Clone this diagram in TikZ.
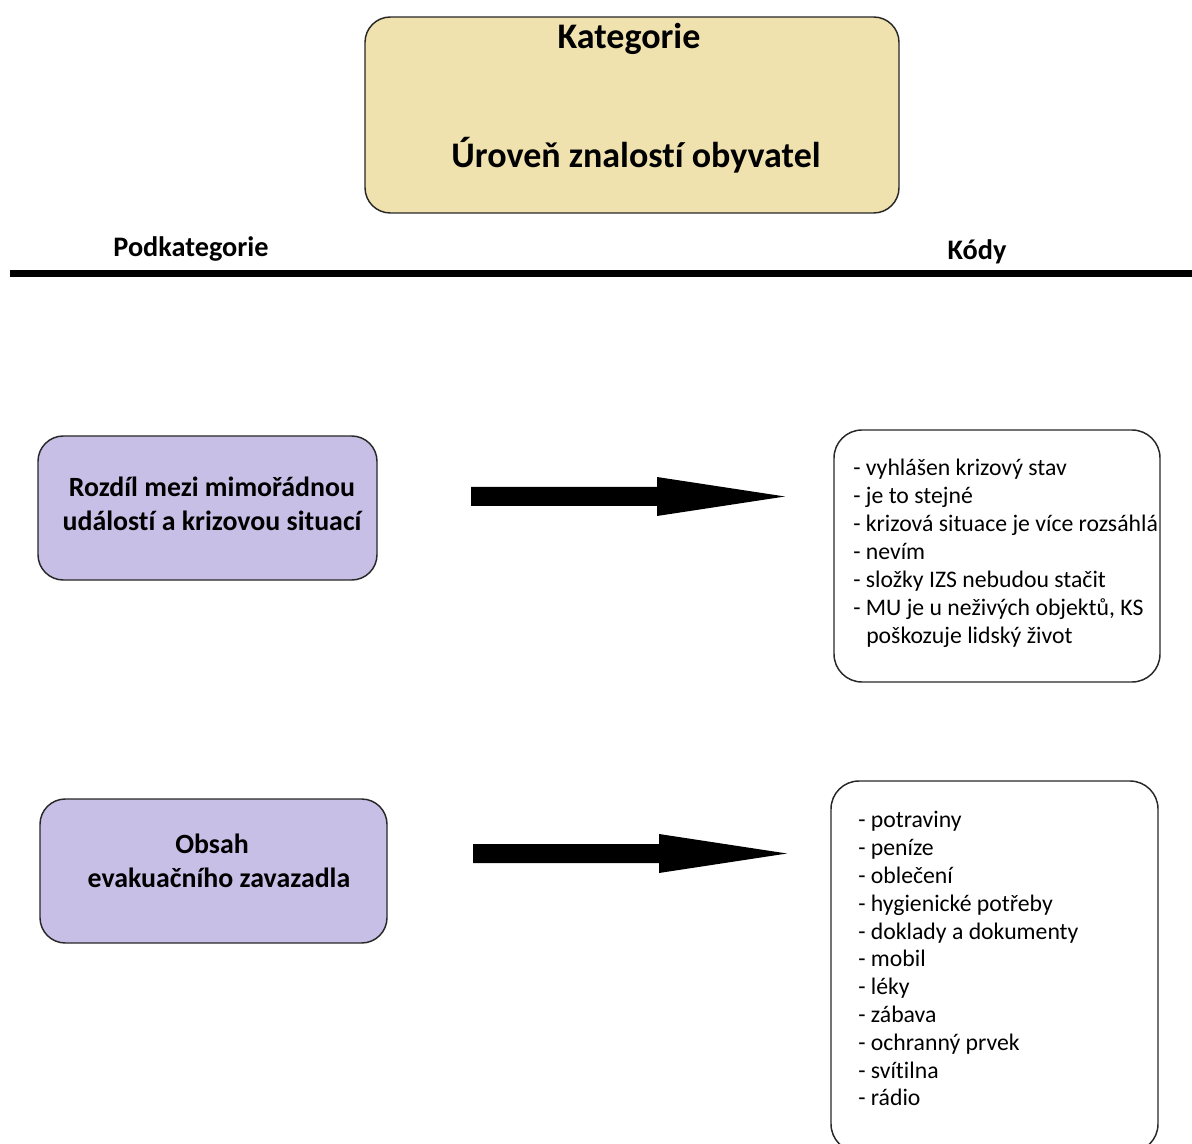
\documentclass[tikz,border=0pt]{standalone}
\usepackage{fontspec}
\setmainfont[Ligatures=NoCommon]{Carlito}
\usetikzlibrary{calc}
\definecolor{khaki}{RGB}{239,226,174}
\definecolor{lilac}{RGB}{200,191,230}
\definecolor{edge}{RGB}{40,40,40}
\tikzset{
  box/.style={draw=edge, line width=1.1pt, rounded corners=19pt},
  titletext/.style={font=\fontsize{27}{32}\selectfont\bfseries, inner sep=0pt, anchor=base},
  headtext/.style={font=\fontsize{21.2}{25}\selectfont\bfseries, inner sep=0pt, anchor=base},
  subtext/.style={font=\fontsize{20.9}{25}\selectfont\bfseries, inner sep=0pt, anchor=base},
  codetext/.style={font=\fontsize{17.8}{21}\selectfont, inner sep=0pt, anchor=base west},
}
\begin{document}
\begin{tikzpicture}[x=0.75pt,y=-0.75pt]
\useasboundingbox (0,0) rectangle (1192,1144);
\fill[white] (0,0) rectangle (1192,1144);

% category box
\draw[box, fill=khaki] (365,17) rectangle (899,213);
\node[titletext] (kat) at (629,49) {Kategorie};
\node[titletext] (uroven) at (636,168) {Úroveň znalostí obyvatel};

% headers
\node[headtext] (podk) at (191,257) {Podkategorie};
\node[headtext] (kody) at (977,260) {Kódy};
\coordinate (hl) at (10,273.5);
\coordinate (hr) at (1192,273.5);
\draw[line width=4.8pt] (hl) -- (hr);

% subcategory boxes
\draw[box, fill=lilac] (38,436) rectangle (377,580);
\node[subtext] (s1a) at (212,497) {Rozdíl mezi mimořádnou};
\node[subtext] (s1b) at (212,530) {událostí a krizovou situací};

\draw[box, fill=lilac] (40,799) rectangle (387,943);
\node[subtext] (s2a) at (212,853) {Obsah};
\node[subtext] (s2b) at (219,887) {evakuačního zavazadla};

% code boxes
\draw[box, rounded corners=21pt, fill=white] (834,430) rectangle (1160,682);
\foreach \t [count=\i] in {- vyhlášen krizový stav, - je to stejné, - krizová situace je více rozsáhlá, - nevím, - složky IZS nebudou stačit, {- MU je u neživých objektů, KS}}
  \node[codetext] (k1-\i) at (853,448+27.9*\i) {\t};
\node[codetext] (k1-7) at (866,643) {poškozuje lidský život};

\draw[box, rounded corners=21pt, fill=white] (831,781) rectangle (1158,1152);
\foreach \t [count=\i] in {- potraviny, - peníze, - oblečení, - hygienické potřeby, - doklady a dokumenty, - mobil, - léky, - zábava, - ochranný prvek, - svítilna, - rádio}
  \node[codetext] (k2-\i) at (858,800+27.8*\i) {\t};

% arrows
\coordinate (a1s) at (471,496.5);
\coordinate (a1e) at (785,496.5);
\fill ($(a1s)+(0,-9.5)$) -- ($(a1e)+(-128,-9.5)$) -- ($(a1e)+(-128,-19.5)$) -- (a1e) -- ($(a1e)+(-128,19.5)$) -- ($(a1e)+(-128,9.5)$) -- ($(a1s)+(0,9.5)$) -- cycle;

\coordinate (a2s) at (473,853.5);
\coordinate (a2e) at (787,853.5);
\fill ($(a2s)+(0,-9.5)$) -- ($(a2e)+(-128,-9.5)$) -- ($(a2e)+(-128,-19.5)$) -- (a2e) -- ($(a2e)+(-128,19.5)$) -- ($(a2e)+(-128,9.5)$) -- ($(a2s)+(0,9.5)$) -- cycle;
\end{tikzpicture}
\end{document}
